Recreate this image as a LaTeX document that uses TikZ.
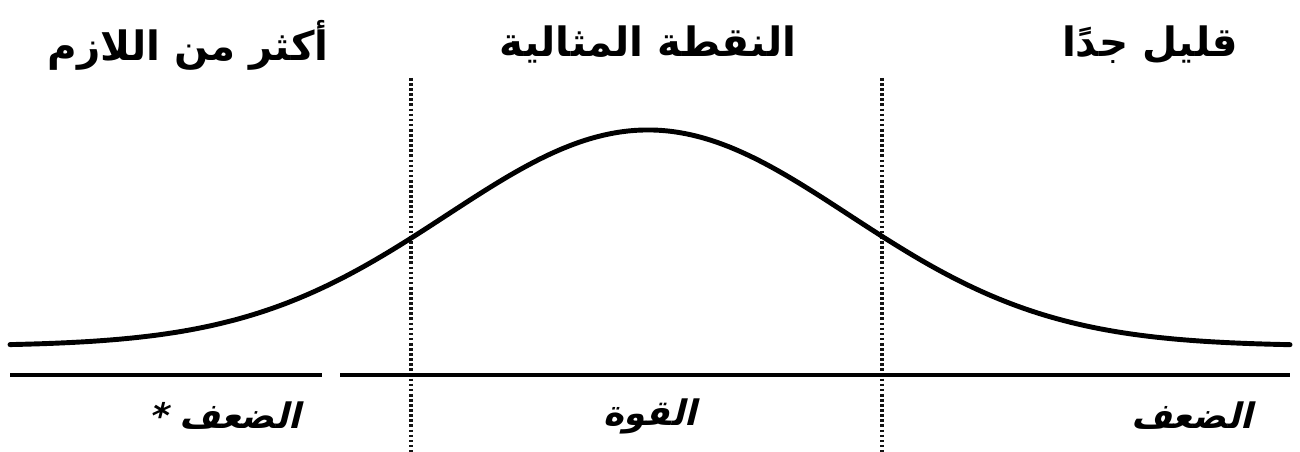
\documentclass[tikz,border=0pt]{standalone}
\usepackage{fontspec}
\usepackage{xcolor}
\usepackage{tikz}
\usetikzlibrary{calc,positioning}
\TeXXeTstate=1
\newfontfamily\arabicfont[Script=Arabic]{DejaVu Sans}
\definecolor{curveBlack}{RGB}{0,0,0}
\definecolor{dotGray}{RGB}{20,20,20}
\tikzset{
  zonetitle/.style={font=\arabicfont\bfseries\fontsize{23}{27}\selectfont, inner sep=0pt},
  zonelabel/.style={font=\arabicfont\bfseries\fontsize{20}{24}\selectfont, inner sep=0pt, xslant=0.25, transform shape},
  zoneborder/.style={dotGray, line width=1.8pt, dash pattern=on 1.5pt off 1.4pt},
  baserule/.style={curveBlack, line width=2.3pt},
}

\begin{document}
\begin{tikzpicture}[x=0.02cm,y=0.02cm]
    \useasboundingbox (0,0) rectangle (1300,452);

    % zone titles
    \node[zonetitle] (tooMuch) at (188,407) {\beginR أكثر من اللازم\endR};
    \node[zonetitle] (ideal) at (648,407) {\beginR النقطة المثالية\endR};
    \node[zonetitle] (tooLittle) at (1150,407) {\beginR قليل جدًا\endR};

    % zone borders
    \coordinate (leftTop) at (411,374);
    \coordinate (leftBot) at (411,0);
    \coordinate (rightTop) at (882,374);
    \coordinate (rightBot) at (882,0);
    \draw[zoneborder] (leftTop) -- (leftBot);
    \draw[zoneborder] (rightTop) -- (rightBot);

    % base line (with gap)
    \coordinate (baseA) at (10,77);
    \coordinate (baseB) at (322,77);
    \coordinate (baseC) at (340,77);
    \coordinate (baseD) at (1290,77);
    \draw[baserule] (baseA) -- (baseB);
    \draw[baserule] (baseC) -- (baseD);

    % bell curve
    \draw[curveBlack, line width=2.8pt, line cap=round, smooth, samples=200, domain=10:1290]
        plot (\x,{106+216*exp(-0.5*((\x-648)/201)^2)});

    % zone labels
    \node[zonelabel] (weakLeft) at (228,36) {\beginR الضعف *\endR};
    \node[zonelabel] (strength) at (652,36) {\beginR القوة\endR};
    \node[zonelabel] (weakRight) at (1195,36) {\beginR الضعف\endR};
\end{tikzpicture}
\end{document}
